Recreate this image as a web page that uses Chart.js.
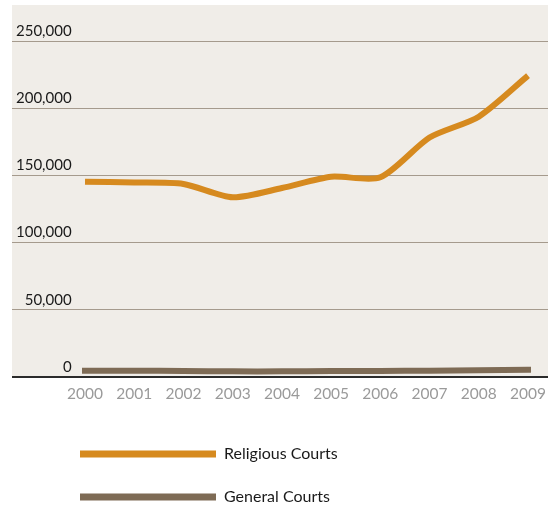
<!DOCTYPE html>
<html>
<head>
<meta charset="utf-8">
<script src="https://cdn.jsdelivr.net/npm/chart.js@4.4.1/dist/chart.umd.min.js"></script>
<style>
  html, body { margin: 0; padding: 0; background: #ffffff; }
  canvas { display: block; }
</style>
</head>
<body>
<canvas id="grafico" width="548" height="509"></canvas>
<script>
const years = [2000, 2001, 2002, 2003, 2004, 2005, 2006, 2007, 2008, 2009];
const religiousCourts = [145300, 144700, 143600, 133700, 140600, 149000, 148600, 178200, 193700, 224200];
const generalCourts = [4700, 4600, 4500, 4200, 4200, 4500, 4500, 4700, 5100, 5400];
const yTicks = [0, 50000, 100000, 150000, 200000, 250000];
const seriesNames = ["Religious Courts", "General Courts"];

const orange = "#d68a1f";
const brown = "#7e6b55";

// panel background behind the plot
const fondo = {
  id: "fondo",
  beforeDraw(chart) {
    const a = chart.chartArea;
    const ctx = chart.ctx;
    ctx.save();
    ctx.fillStyle = "#f0ede8";
    ctx.fillRect(a.left, a.top, a.right - a.left, a.bottom - a.top);
    ctx.restore();
  }
};

// push legend rows to the right, under the plot
const moverLeyenda = {
  id: "moverLeyenda",
  afterLayout(chart) {
    chart.legend.left += 41;
    chart.legend.top += 6;
  }
};

function puntos(valores) {
  return valores.map((v, i) => ({ x: years[i], y: v }));
}

const ctx = document.getElementById("grafico").getContext("2d");
new Chart(ctx, {
  type: "line",
  data: {
    datasets: [
      {
        label: seriesNames[0],
        data: puntos(religiousCourts),
        borderColor: orange,
        backgroundColor: orange,
        borderWidth: 6,
        tension: 0.25,
        pointRadius: 0
      },
      {
        label: seriesNames[1],
        data: puntos(generalCourts),
        borderColor: brown,
        backgroundColor: brown,
        borderWidth: 6,
        borderCapStyle: "square",
        tension: 0.25,
        pointRadius: 0
      }
    ]
  },
  plugins: [fondo, moverLeyenda],
  options: {
    responsive: false,
    animation: false,
    layout: { padding: { left: 12, top: 5, right: 0, bottom: 0 } },
    plugins: {
      tooltip: { enabled: false },
      legend: {
        position: "bottom",
        align: "start",
        labels: {
          boxWidth: 136,
          boxHeight: 7,
          padding: 27,
          color: "#1a1a1a",
          font: { family: "Lato", size: 16 },
          generateLabels(chart) {
            return Chart.defaults.plugins.legend.labels.generateLabels(chart).map((it) => {
              it.lineWidth = 0;
              return it;
            });
          }
        }
      }
    },
    scales: {
      x: {
        type: "linear",
        min: 1998.517,
        max: 2009.406,
        grid: { display: false, drawTicks: false },
        border: { display: false },
        afterBuildTicks(scale) {
          scale.ticks = years.map((y) => ({ value: y }));
        },
        afterFit(scale) {
          scale.height = 36;
          scale.paddingLeft = 0;
          scale.paddingRight = 0;
        },
        ticks: {
          autoSkip: false,
          maxRotation: 0,
          padding: 8,
          color: "#9a9a9a",
          font: { family: "Lato", size: 15.5 },
          callback: (v) => String(v)
        }
      },
      y: {
        min: 0,
        max: 276786,
        grid: {
          drawTicks: false,
          color: (c) => (c.tick && c.tick.value === 0 ? "#2b2b2b" : "#a59a8d"),
          lineWidth: (c) => (c.tick && c.tick.value === 0 ? 2 : 1)
        },
        border: { display: false },
        afterBuildTicks(scale) {
          scale.ticks = yTicks.map((v) => ({ value: v }));
        },
        afterFit(scale) {
          // labels sit inside the panel, no extra room needed
          scale.width = 0;
          scale.paddingTop = 0;
          scale.paddingBottom = 0;
        },
        ticks: {
          mirror: true,
          crossAlign: "far",
          padding: 4,
          labelOffset: -10,
          color: "#1a1a1a",
          font: { family: "Lato", size: 15 },
          callback: (v) => v.toLocaleString("en-US")
        }
      }
    }
  }
});
</script>
</body>
</html>
